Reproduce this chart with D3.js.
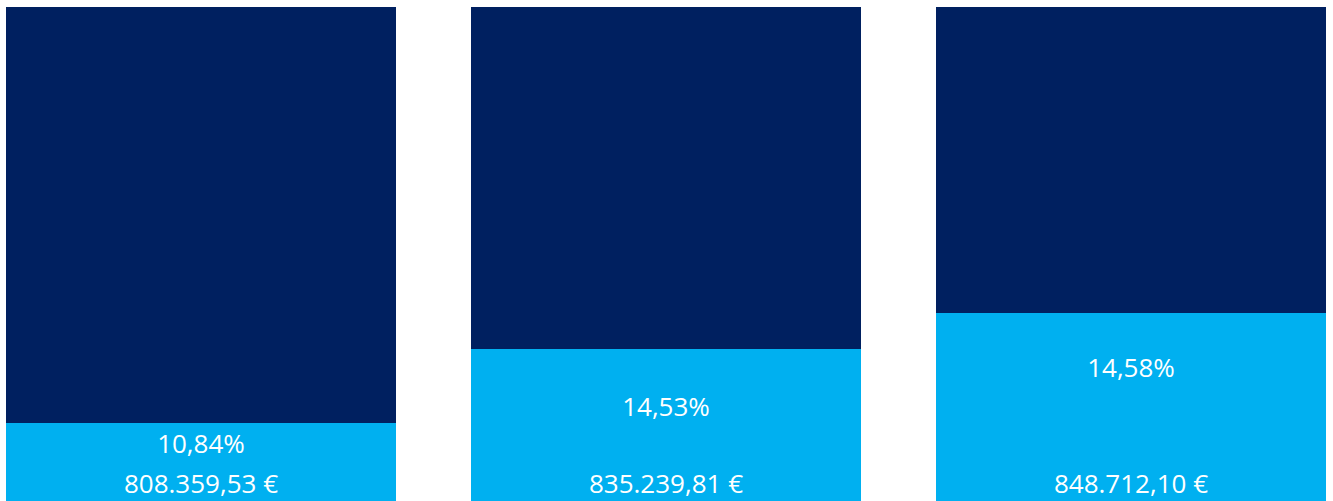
<!DOCTYPE html>
<html>
<head>
<meta charset="utf-8">
<script src="https://cdn.jsdelivr.net/npm/d3@7"></script>
<style>
  body { margin: 0; background: #fff; }
  .lbl { font-family: "Open Sans", sans-serif; font-size: 26px; fill: #fff; }
</style>
</head>
<body>
<div id="chart"></div>
<script>
// bars (no visible category axis)
const categories = ["Col 1", "Col 2", "Col 3"];
// stacked parts in chart units (total 100 each)
const baseValues  = [7.3, 7.5, 16.0];   // light blue, lower part
const shareValues = [8.5, 23.3, 22.1];  // light blue, upper part (with % label)
const restValues  = [84.2, 69.2, 61.9]; // dark navy
// labels
const pctLabels   = ["10,84%", "14,53%", "14,58%"];
const euroLabels  = ["808.359,53 €", "835.239,81 €", "848.712,10 €"];

const width = 1333, height = 501;
const margin = {top: 7, right: 7, bottom: 0, left: 6};

const svg = d3.select("#chart")
  .append("svg")
  .attr("width", width)
  .attr("height", height);

const rows = categories.map((c, i) => ({
  cat: c, base: baseValues[i], share: shareValues[i], rest: restValues[i],
  pct: pctLabels[i], euro: euroLabels[i]
}));

const keys = ["base", "share", "rest"];
const color = d3.scaleOrdinal()
  .domain(keys)
  .range(["#00B0F0", "#00B0F0", "#002060"]);

const x = d3.scaleBand()
  .domain(categories)
  .range([margin.left, width - margin.right])
  .paddingInner(0.1613)
  .paddingOuter(0);

const y = d3.scaleLinear()
  .domain([0, 100])
  .range([height - margin.bottom, margin.top]);

const stacked = d3.stack().keys(keys)(rows);

// the stacked bars
svg.append("g")
  .attr("shape-rendering", "crispEdges")
  .selectAll("g")
  .data(stacked)
  .join("g")
    .attr("fill", d => color(d.key))
  .selectAll("rect")
  .data(d => d)
  .join("rect")
    .attr("x", d => x(d.data.cat))
    .attr("y", d => Math.round(y(d[1])))
    .attr("width", x.bandwidth())
    .attr("height", d => Math.round(y(d[0])) - Math.round(y(d[1])));

// percentage labels, centred in the share part
const share = stacked.find(s => s.key === "share");
svg.append("g")
  .selectAll("text")
  .data(share)
  .join("text")
    .attr("class", "lbl")
    .attr("text-anchor", "middle")
    .attr("x", d => x(d.data.cat) + x.bandwidth() / 2)
    .attr("y", d => (y(d[0]) + y(d[1])) / 2)
    .attr("dy", "0.36em")
    .text(d => d.data.pct);

// amount labels, inside base
svg.append("g")
  .selectAll("text")
  .data(rows)
  .join("text")
    .attr("class", "lbl")
    .attr("text-anchor", "middle")
    .attr("x", d => x(d.cat) + x.bandwidth() / 2)
    .attr("y", y(0) - 8)
    .text(d => d.euro);
</script>
</body>
</html>
